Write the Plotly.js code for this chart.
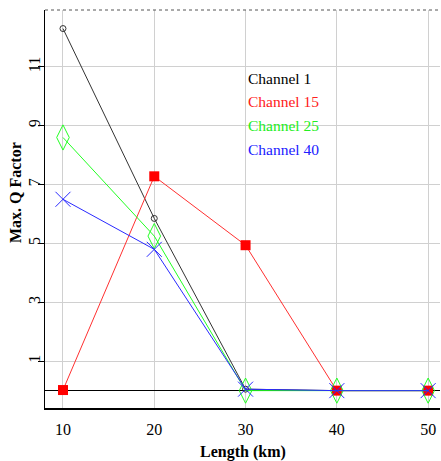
<!DOCTYPE html>
<html><head><meta charset="utf-8">
<script src="https://cdn.plot.ly/plotly-3.0.1.min.js"></script>
<style>html,body{margin:0;padding:0;background:#fff}#c{width:441px;height:461px}</style>
</head><body><div id="c"></div>
<script>
const lengths = [10, 20, 30, 40, 50];
const seriesNames = ["Channel 1", "Channel 15", "Channel 25", "Channel 40"];
const ch1 = [12.3, 5.85, 0.05, 0, 0];
const ch15 = [0.02, 7.28, 4.94, 0, 0];
const ch25 = [8.6, 5.25, 0, 0, 0];
const ch40 = [6.5, 4.8, 0.05, 0, 0];
const yTicks = [1, 3, 5, 7, 9, 11];
const xTicks = [10, 20, 30, 40, 50];
const xTitle = "Length (km)";
const yTitle = "Max. Q Factor";

const colors = ["#333333", "#ff3030", "#22ff22", "#2a2aff"];
const markers = [
  {symbol: "circle-open", size: 6, color: "#333333", line: {width: 1}},
  {symbol: "square", size: 10, color: "#ff0000"},
  {symbol: "diamond-tall-open", size: 18, color: "#22ff22", line: {width: 1}},
  {symbol: "x-thin-open", size: 15, color: "#2a2aff", line: {width: 1, color: "#2a2aff"}}
];
const allY = [ch1, ch15, ch25, ch40];
const traces = [0, 1, 2, 3].map(i => ({
  x: lengths, y: allY[i], name: seriesNames[i], type: "scatter", mode: "lines+markers",
  line: {color: colors[i], width: 1}, marker: markers[i], showlegend: false
}));

const serif = "'Liberation Serif', 'Times New Roman', serif";
const annotations = seriesNames.map((n, i) => ({
  text: n, xref: "paper", yref: "paper", x: 0.508, y: 0.829 - i * 0.060,
  xanchor: "left", yanchor: "middle", showarrow: false,
  font: {family: serif, size: 15.5, color: ["#000000", "#ff2020", "#22ee22", "#2020ff"][i]}
}));
annotations.push({
  text: "<b>" + xTitle + "</b>", xref: "paper", yref: "paper", x: 0.5, y: 0, yshift: -44,
  xanchor: "center", yanchor: "middle", showarrow: false,
  font: {family: serif, size: 16, color: "#000"}
});
annotations.push({
  text: "<b>" + yTitle + "</b>", xref: "paper", yref: "paper", x: 0, xshift: -30, y: 0.54,
  xanchor: "center", yanchor: "middle", showarrow: false, textangle: -90,
  font: {family: serif, size: 16, color: "#000"}
});

const layout = {
  width: 441, height: 461,
  margin: {l: 45, r: 1, t: 10, b: 53},
  paper_bgcolor: "#fff", plot_bgcolor: "#fff",
  xaxis: {
    range: [8.03, 51.3], tickvals: xTicks, ticktext: xTicks.map(String),
    showgrid: true, gridcolor: "#d0d0d0", gridwidth: 1,
    zeroline: false, showline: true, linecolor: "#000", linewidth: 1.5,
    ticks: "", ticklabelstandoff: 6, tickfont: {family: serif, size: 16, color: "#000"}
  },
  yaxis: {
    range: [-0.59, 12.93], tickvals: yTicks, ticktext: yTicks.map(String),
    showgrid: true, gridcolor: "#d0d0d0", gridwidth: 1,
    zeroline: true, zerolinecolor: "#000", zerolinewidth: 1,
    showline: true, linecolor: "#000", linewidth: 1.5,
    ticks: "outside", ticklen: 6, tickcolor: "#000", ticklabelstandoff: -9,
    tickangle: -90, tickfont: {family: serif, size: 16, color: "#000"}
  },
  shapes: [{type: "line", xref: "paper", yref: "paper", x0: 0, x1: 1, y0: 1, y1: 1,
            line: {color: "#555", width: 1, dash: "dot"}}],
  annotations: annotations
};
Plotly.newPlot("c", traces, layout, {displayModeBar: false, staticPlot: true});
</script></body></html>
